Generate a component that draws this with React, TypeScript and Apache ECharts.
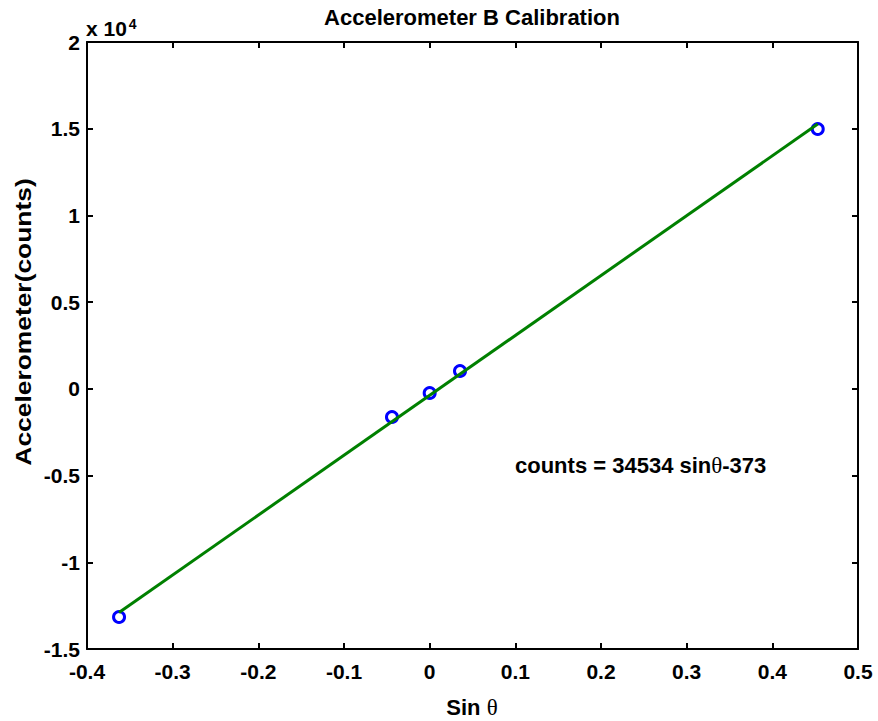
import React, { useEffect, useRef } from "react";
import * as echarts from "echarts";

const sinTheta = [-0.3626, -0.044, 0.0, 0.0354, 0.453];
const counts = [-13155, -1623, -239, 1030, 14984];
const fitX = [-0.3626, 0.453];
const fitY = [-12895, 15271];
const xTicks = { min: -0.4, max: 0.5, interval: 0.1 };
const yTicks = { min: -15000, max: 20000, interval: 5000 };
const yScale = 10000;
const titleText = "Accelerometer B Calibration";
const yTitle = "Accelerometer(counts)";
const equationMain = "counts = 34534 sin";
const equationTail = "-373";

const FONT = "'Liberation Sans', Arial, sans-serif";
const SERIF = "'Liberation Serif', 'Times New Roman', serif";

export default function App() {
  const ref = useRef<HTMLDivElement>(null);
  useEffect(() => {
    if (!ref.current) return;
    const chart = echarts.init(ref.current, null, { renderer: "svg" });
    const axisLine = { show: true, onZero: false, lineStyle: { color: "#000", width: 2 } };
    const axisTick = { show: true, inside: true, length: 6, lineStyle: { color: "#000", width: 2 } };
    const labelStyle = { color: "#000", fontSize: 21, fontWeight: "bold" as const, fontFamily: FONT };
    chart.setOption({
      animation: false,
      backgroundColor: "#fff",
      grid: { left: 87, right: 20, top: 42, bottom: 72, containLabel: false },
      xAxis: [
        {
          type: "value", position: "bottom", ...xTicks,
          axisLine, axisTick, splitLine: { show: false },
          axisLabel: { ...labelStyle, margin: 12, formatter: (v: number) => String(Math.round(v * 10) / 10) },
        },
        {
          type: "value", position: "top", ...xTicks,
          axisLine, axisTick, splitLine: { show: false }, axisLabel: { show: false },
        },
      ],
      yAxis: [
        {
          type: "value", position: "left", ...yTicks,
          axisLine, axisTick, splitLine: { show: false },
          axisLabel: { ...labelStyle, margin: 7, formatter: (v: number) => String(Math.round((v / yScale) * 10) / 10) },
        },
        {
          type: "value", position: "right", ...yTicks,
          axisLine, axisTick, splitLine: { show: false }, axisLabel: { show: false },
        },
      ],
      graphic: [
        {
          type: "text", x: 472, y: 17,
          style: { text: titleText, fill: "#000", font: `bold 22px ${FONT}`, align: "center", verticalAlign: "middle" },
        },
        {
          type: "text", x: 23, y: 322, rotation: Math.PI / 2, scaleX: 1.2,
          style: { text: yTitle, fill: "#000", font: `bold 22px ${FONT}`, align: "center", verticalAlign: "middle" },
        },
        {
          type: "text", x: 86, y: 28,
          style: {
            text: "{a|x 10}{s|4}",
            verticalAlign: "middle",
            rich: {
              a: { font: `bold 21px ${FONT}`, fill: "#000", verticalAlign: "bottom", lineHeight: 22 },
              s: { font: `bold 14px ${FONT}`, fill: "#000", verticalAlign: "top", padding: [0, 0, 10, 2], lineHeight: 22 },
            },
          },
        },
        {
          type: "text", x: 515, y: 465,
          style: {
            text: `{b|${equationMain}}{t|θ}{b|${equationTail}}`,
            verticalAlign: "middle",
            rich: {
              b: { font: `bold 22px ${FONT}`, fill: "#000" },
              t: { font: `23px ${SERIF}`, fill: "#000" },
            },
          },
        },
        {
          type: "text", x: 472, y: 707,
          style: {
            text: "{b|Sin }{t|θ}",
            align: "center",
            verticalAlign: "middle",
            rich: {
              b: { font: `bold 22px ${FONT}`, fill: "#000" },
              t: { font: `23px ${SERIF}`, fill: "#000" },
            },
          },
        },
      ],
      series: [
        {
          type: "scatter",
          data: sinTheta.map((x, i) => [x, counts[i]]),
          symbol: "circle",
          symbolSize: 11,
          itemStyle: { color: "rgba(0,0,0,0)", borderColor: "#0000ff", borderWidth: 3, opacity: 1 },
          z: 2,
        },
        {
          type: "line",
          data: fitX.map((x, i) => [x, fitY[i]]),
          showSymbol: false,
          lineStyle: { color: "#008000", width: 3 },
          z: 3,
        },
      ],
    });
    return () => chart.dispose();
  }, []);
  return <div ref={ref} style={{ width: 878, height: 721, position: "absolute", left: 0, top: 0 }} />;
}
